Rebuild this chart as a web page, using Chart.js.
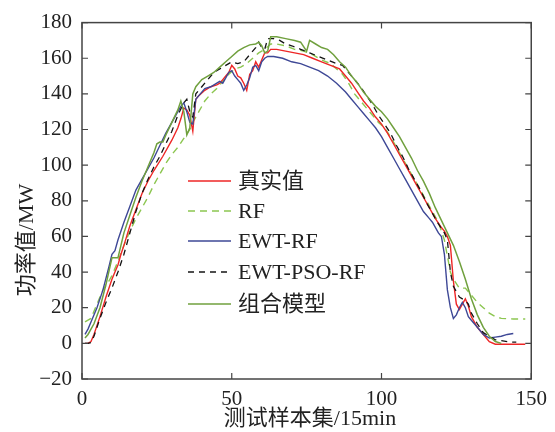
<!DOCTYPE html>
<html>
<head>
<meta charset="utf-8">
<script src="https://cdn.jsdelivr.net/npm/chart.js@4.4.1/dist/chart.umd.min.js"></script>
<style>
  html, body { margin: 0; padding: 0; background: #fff; }
  #wrap { width: 555px; height: 432px; }
</style>
</head>
<body>
<div id="wrap"><canvas id="chart_power"></canvas></div>
<script>
// series labels
const seriesNames = ["真实值", "RF", "EWT-RF", "EWT-PSO-RF", "组合模型"];

// 真实值
const realX = [1,2,3,4,6,8,10,11,12,13,14,16,18,20,22,24,27,30,32,33,34,35,36,37,38,39,41,43,45,46,47,48,49,50,51,52,53,54,55,56,57,58,59,60,61,62,63,65,68,71,74,77,80,83,86,88,90,92,94,96,98,100,102,104,106,108,110,112,114,116,118,120,121,122,123,124,125,126,127,128,129,130,132,134,136,138,142,148];
const realY = [0,0,1,5,15,26,36,40,44,50,55,66,75,84,91,97,105,114,121,126,132,131,128,119,137,139,142,144,145,146,148,150,152,156,154,150,149,146,142,151,153,158,155,159,163,163,165,165,164,163,162,160,158,156,154,150,146,141,136,132,127,123,118,112,106,100,94,88,82,76,70,65,63,60,55,35,22,19,22,25,21,15,9,5,1,-0.5,-0.5,-0.5];

// RF
const rfX = [1,2,3,5,7,9,10,12,14,16,18,20,22,24,26,28,30,32,34,36,37,39,41,43,45,47,49,51,53,55,57,59,61,63,65,68,71,74,77,80,83,85,87,89,91,93,95,97,99,101,103,105,107,109,111,113,115,117,119,121,123,124,126,128,130,132,134,136,138,140,144,148];
const rfY = [12,13,14,22,30,35,38,46,55,63,70,76,82,89,95,101,106,110,115,120,124,130,136,140,143,147,151,154,155,157,160,163,165,168,168,167,165,164,162,159,157,154,151,146,140,136,132,128,124,121,116,110,104,98,92,86,80,74,68,58,40,36,31,31,27,23,20,17,15,14,13.7,13.7];

// EWT-RF
const ewtX = [1,2,3,5,7,9,10,11,12,14,16,18,20,22,24,26,28,30,32,33,34,35,36,37,38,39,41,43,45,46,47,48,49,50,51,52,53,54,55,56,57,58,59,60,61,62,64,67,70,73,76,79,82,85,88,90,92,94,96,98,100,102,104,106,108,110,112,114,116,117,119,120,121,122,123,124,125,126,127,128,129,130,131,132,134,136,138,140,142,144];
const ewtY = [5,8,12,20,30,43,50,52,58,68,77,86,92,98,104,111,118,124,130,133,135,130,124,123,137,139,143,144,146,147,146,149,152,153,150,148,146,142,145,149,155,156,153,158,160,161,161,160,158,157,155,153,150,146,141,137,133,129,125,121,116,110,104,98,92,86,80,74,70,68,62,60,50,30,20,14,16,20,23,20,15,13,11,9,5,3,3.5,4,5,5.5];

// EWT-PSO-RF
const psoX = [1,2,3,4,6,8,10,12,14,16,18,20,22,24,26,28,30,32,34,35,36,37,38,40,42,44,46,48,50,52,54,56,58,59,60,61,62,64,66,68,70,73,76,79,82,85,87,89,91,93,95,97,99,101,103,105,107,109,111,113,115,117,119,121,122,123,124,126,128,129,130,132,134,136,138,140,143,145];
const psoY = [0,0,0.5,4,14,23,31,40,50,62,74,84,92,99,105,112,119,128,135,137,130,127,140,144,148,152,154,156,158,157,158,162,166,169,166,165,171,171,170,168,167,165,163,161,159,157,156,152,148,144,139,134,128,123,118,111,105,98,92,86,79,73,67,62,58,40,32,26,24,22,17,11,6,4,2,1.5,0.7,0.7];

// 组合模型
const combX = [1,2,3,4,6,8,10,11,12,13,14,16,18,20,22,24,25,26,27,28,30,32,33,34,35,36,37,38,40,42,44,46,48,50,52,54,56,58,59,60,61,62,63,65,68,71,73,75,76,78,80,82,84,86,88,90,92,94,96,98,100,102,104,106,108,110,112,114,116,118,120,122,124,126,128,130,132,134,136,138,140];
const combY = [3,5,8,11,20,33,48,48,48,55,62,72,82,91,99,107,112,113,113,117,124,131,136,130,117,121,140,144,148,150,152,155,158,161,164,166,167.5,168,169,167,163,164,172,172,171,170,169,164,170,168,166,165,162,158,155,150,146,141,137,133,130,126,121,116,110,104,97,91,84,76,69,62,55,46,36,25,16,9,4,1,0];

const serif = '"Liberation Serif", "Times New Roman", "Noto Sans CJK SC", serif';

function pts(xs, ys) {
	return xs.map((x, i) => ({ x: x, y: ys[i] }));
}

// frame, inward ticks, axis titles and legend
const framePlugin = {
	id: 'framePlugin',
	afterDraw(chart) {
		const ctx = chart.ctx;
		const a = chart.chartArea;
		const xs = chart.scales.x;
		const ys = chart.scales.y;
		ctx.save();
		ctx.strokeStyle = '#444';
		ctx.lineWidth = 1.5;
		ctx.strokeRect(a.left, a.top, a.right - a.left, a.bottom - a.top);
		ctx.lineWidth = 1.2;
		ctx.beginPath();
		xs.ticks.forEach(t => {
			const p = xs.getPixelForValue(t.value);
			ctx.moveTo(p, a.bottom); ctx.lineTo(p, a.bottom - 6);
			ctx.moveTo(p, a.top); ctx.lineTo(p, a.top + 6);
		});
		ys.ticks.forEach(t => {
			const p = ys.getPixelForValue(t.value);
			ctx.moveTo(a.left, p); ctx.lineTo(a.left + 6, p);
			ctx.moveTo(a.right, p); ctx.lineTo(a.right - 6, p);
		});
		ctx.stroke();

		// axis titles
		ctx.fillStyle = '#222';
		ctx.font = '22px ' + serif;
		ctx.textAlign = 'center';
		ctx.textBaseline = 'middle';
		ctx.fillText('测试样本集/15min', 310, 419);
		ctx.save();
		ctx.translate(27, 240);
		ctx.rotate(-Math.PI / 2);
		ctx.fillText('功率值/MW', 0, 0);
		ctx.restore();

		// legend inside the plot
		const rows = [181, 211, 241, 272, 304];
		chart.data.datasets.forEach((ds, i) => {
			const y = rows[i];
			ctx.strokeStyle = ds.borderColor;
			ctx.lineWidth = 1.5;
			ctx.setLineDash(ds.borderDash || []);
			ctx.beginPath();
			ctx.moveTo(188, y); ctx.lineTo(231, y);
			ctx.stroke();
			ctx.setLineDash([]);
			ctx.textAlign = 'left';
			ctx.fillStyle = '#222';
			ctx.font = '22px ' + serif;
			ctx.fillText(ds.label, 238, y + 1);
		});
		ctx.restore();
	}
};

new Chart(document.getElementById("chart_power"), {
	type: 'line',
	data: {
		datasets: [
			{ label: seriesNames[0], data: pts(realX, realY), borderColor: 'rgb(238, 38, 38)', borderWidth: 1.4, order: 4 },
			{ label: seriesNames[1], data: pts(rfX, rfY), borderColor: 'rgb(140, 198, 80)', borderWidth: 1.4, borderDash: [7, 5], order: 5 },
			{ label: seriesNames[2], data: pts(ewtX, ewtY), borderColor: 'rgb(62, 72, 150)', borderWidth: 1.4, order: 3 },
			{ label: seriesNames[3], data: pts(psoX, psoY), borderColor: 'rgb(20, 20, 20)', borderWidth: 1.3, borderDash: [6, 5], order: 2 },
			{ label: seriesNames[4], data: pts(combX, combY), borderColor: 'rgb(112, 160, 62)', borderWidth: 1.5, order: 1 }
		]
	},
	options: {
		responsive: true,
		maintainAspectRatio: false,
		animation: false,
		layout: { padding: { left: 0, top: 19, right: 22, bottom: 0 } },
		elements: { point: { radius: 0 }, line: { tension: 0, fill: false } },
		plugins: {
			legend: { display: false },
			tooltip: { enabled: false }
		},
		scales: {
			x: {
				type: 'linear',
				min: 0,
				max: 150,
				ticks: { stepSize: 50, color: '#222', padding: 8, font: { family: serif, size: 21 }, maxRotation: 0 },
				grid: { display: false, drawTicks: false },
				border: { display: false },
				afterFit: (s) => { s.height = 53; }
			},
			y: {
				min: -20,
				max: 180,
				ticks: {
					stepSize: 20,
					color: '#222',
					padding: 10,
					font: { family: serif, size: 21 },
					callback: (v) => String(v).replace('-', '\u2212')
				},
				grid: { display: false, drawTicks: false },
				border: { display: false },
				afterFit: (s) => { s.width = 82; }
			}
		}
	},
	plugins: [framePlugin]
});
</script>
</body>
</html>
